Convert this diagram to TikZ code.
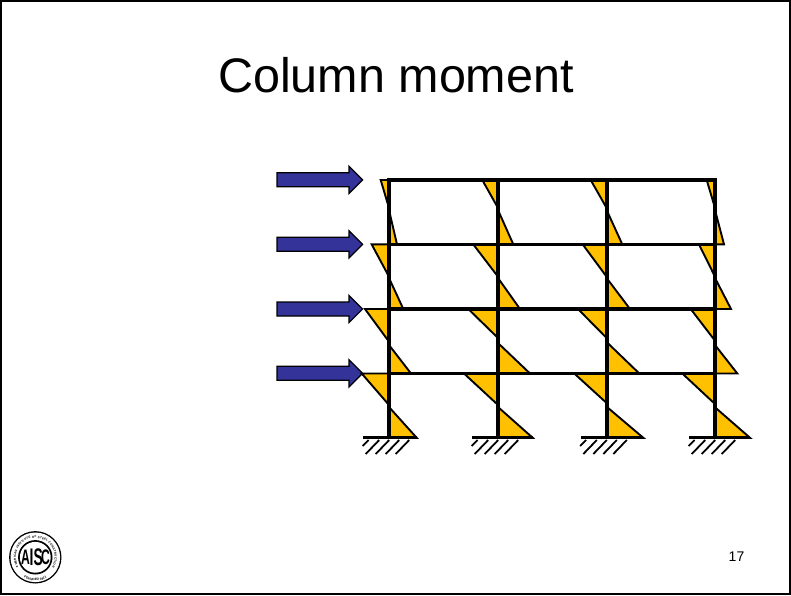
\documentclass[tikz,border=0pt]{standalone}
\usepackage{fontspec}
\setmainfont{Liberation Sans}
\usetikzlibrary{decorations.text}
\definecolor{momfill}{HTML}{FFC000}
\definecolor{loadblue}{HTML}{333399}
\tikzset{
  moment/.style={fill=momfill,draw=black,line width=1.9pt,line join=miter,miter limit=3},
  member/.style={draw=black,line width=3.2pt,line cap=butt},
  colmember/.style={draw=black,line width=3.8pt,line cap=butt},
  base/.style={draw=black,line width=3pt},
  hatch/.style={draw=black,line width=1.8pt},
  load/.style={fill=loadblue,draw=black,line width=1.2pt,line join=miter},
}
% column x, top y, bottom y, left tip x, upper inflection y, lower inflection y, right tip x
\newcommand{\momentpair}[7]{%
  \path[moment] (#1,#2) -- (#4,#2) -- (#1,#5) -- cycle;
  \path[moment] (#1,#6) -- (#7,#3) -- (#1,#3) -- cycle;
}
\begin{document}
\begin{tikzpicture}[x=1pt,y=-1pt]
\useasboundingbox (0,0) rectangle (791,595);
\fill[white] (0,0) rectangle (791,595);
\draw[black,line width=1.6pt] (0.8,0.8) rectangle (790.2,594.2);

\node[anchor=base,inner sep=0pt,font=\fontsize{48.5}{50}\selectfont] (title) at (396,92.3) {Column moment};
\node[anchor=base,inner sep=0pt,font=\fontsize{14}{16}\selectfont] (page) at (736.5,561.7) {17};

% loads
\foreach \yc in {179.8,244.3,309,373.3}{
  \path[load] (277,\yc-7) -- (349,\yc-7) -- (349,\yc-13.6) -- (362.6,\yc) -- (349,\yc+13.6) -- (349,\yc+7) -- (277,\yc+7) -- cycle;
}

% moment diagrams
\momentpair{389}{180}{244.4}{380.7}{208}{210}{397}
\momentpair{498}{180}{244.4}{482.3}{208}{210}{513.3}
\momentpair{606.6}{180}{244.4}{590.7}{208}{210}{622.3}
\momentpair{715}{180}{244.4}{706.7}{208}{210}{724}
\momentpair{389}{244.4}{309}{371.7}{276.7}{278}{403.3}
\momentpair{498}{244.4}{309}{473.3}{276.7}{278}{520}
\momentpair{606.6}{244.4}{309}{582.7}{276.7}{278}{630}
\momentpair{715}{244.4}{309}{699}{276.7}{278}{731}
\momentpair{389}{309}{373.5}{365}{341.7}{345}{411}
\momentpair{498}{309}{373.5}{468.3}{338}{343}{530}
\momentpair{606.6}{309}{373.5}{578}{338}{342}{639.3}
\momentpair{715}{309}{373.5}{690.7}{340.7}{345}{737.3}
\momentpair{389}{373.5}{437.8}{361.7}{405}{407}{416.7}
\momentpair{498}{373.5}{437.8}{464}{405}{407}{532.7}
\momentpair{606.6}{373.5}{437.8}{574.3}{403}{406.7}{643.3}
\momentpair{715}{373.5}{437.8}{682.3}{404}{407.3}{750}

% frame
\foreach \yb in {180,244.4,309,373.5}{
  \draw[member] (387.5,\yb) -- (716.8,\yb);
}
\foreach \xc in {389,498,606.6,715}{
  \draw[colmember] (\xc,178.4) -- (\xc,437.8);
}

% supports
\foreach \xc/\xr in {389/416.7,498/532.7,606.6/643.3,715/750}{
  \draw[base] (\xc-25.8,437.8) -- (\xr,437.8);
  \draw[hatch] (\xc-26.4,446) -- (\xc-20.4,440);
  \foreach \d in {-23.3,-13.3,-3.3,6.7}{
    \draw[hatch] (\xc+\d,454) -- (\xc+\d+13.5,440);
  }
}

% seal
\begin{scope}[shift={(35.3,557.3)},y=1pt]
\fill[black] (0,0) circle (26.2);
\fill[white] (0,0) circle (24.8);
\fill[black] (0,0) circle (17.2);
\fill[white] (0,0) circle (15.4);
\path[postaction={decorate},decoration={text along path,text align={fit to path},
  text={|\fontsize{3.0}{4}\selectfont\bfseries|AMERICAN INSTITUTE OF STEEL CONSTRUCTION}}]
  (210:19.4) arc[start angle=210,end angle=-30,radius=19.4];
\path[postaction={decorate},decoration={text along path,text align=center,
  text={|\fontsize{3.2}{4}\selectfont\bfseries|FOUNDED 1921}}]
  (232:23.6) arc[start angle=232,end angle=308,radius=23.6];
\node[inner sep=0pt,font=\fontsize{21}{21}\selectfont\bfseries,xscale=.58] (sa) at (-9.8,0) {A};
\node[inner sep=0pt,font=\fontsize{24}{24}\selectfont\bfseries,xscale=.58] (si) at (-3.7,0) {I};
\node[inner sep=0pt,font=\fontsize{24}{24}\selectfont\bfseries,xscale=.58] (ss) at (2.9,0) {S};
\node[inner sep=0pt,font=\fontsize{21}{21}\selectfont\bfseries,xscale=.58] (sc) at (10.2,0) {C};
\end{scope}
\end{tikzpicture}
\end{document}
